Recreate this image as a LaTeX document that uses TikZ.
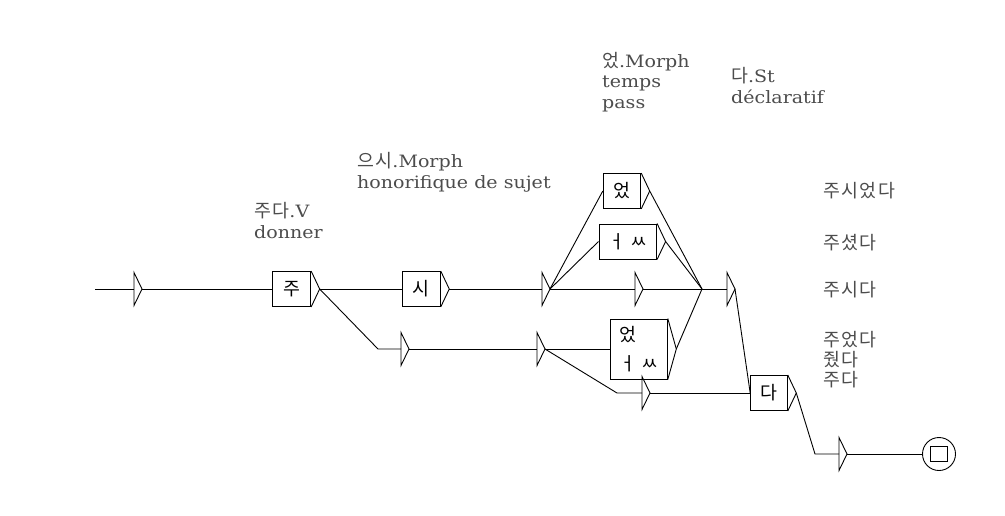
\documentclass[tikz,border=0pt]{standalone}
\usepackage{fontspec}
\setmainfont{DejaVu Serif}[FakeStretch=1.12]
\newfontfamily\kr{Noto Sans CJK KR}[Scale=1.08, LetterSpace=8]
\usetikzlibrary{positioning}
\lineskiplimit=-100pt

\begin{document}
\begin{tikzpicture}[x=1pt, y=-1pt,
    every node/.style={font=\fontsize{17}{20.5}\selectfont},
    box/.style={draw, line width=0.9pt, minimum height=35, inner sep=0, font=\kr\fontsize{17}{20.5}\selectfont},
    lbl/.style={anchor=base west, align=left, inner sep=0, text=black!70},
    word/.style={lbl, font=\kr\fontsize{17}{20}\selectfont},
    line/.style={line width=0.9pt}
  ]
    \useasboundingbox (0,0) rectangle (1005,515);
    % states
    \coordinate (in) at (95,289);
    \coordinate (e0) at (134,289);
    \node[box, minimum width=38] (zu) at (291.7,289) {주};
    \node[box, minimum width=38] (si) at (421.3,289) {시};
    \coordinate (e1) at (542,289);
    \coordinate (b1) at (378,349);
    \coordinate (e2) at (401,349);
    \coordinate (e3) at (537,349);
    \node[box, minimum width=37.5] (eot) at (622,191) {었};
    \node[box, minimum width=57.7] (eoss) at (627.8,241.5) {ㅓ ㅆ};
    \coordinate (e4) at (635,289);
    \coordinate (jn) at (702,289);
    \coordinate (e5) at (727,289);
    \node[box, minimum width=57.3, minimum height=60, align=left] (low) at (638.7,349) {었\\[8pt]ㅓ ㅆ};
    \coordinate (b2) at (617,393);
    \coordinate (e6) at (642,393);
    \node[box, minimum width=36.7] (da) at (769,393) {다};
    \coordinate (b3) at (815,454);
    \coordinate (e7) at (839,454);
    \node[circle, draw, line width=0.9pt, minimum size=33, inner sep=0] (fin) at (939,454) {};
    \node[draw, line width=0.9pt, minimum width=16.6, minimum height=15.6, inner sep=0] (finsq) at (fin) {};
    % output triangles
    \foreach \n in {zu,si,eot,eoss,low,da}
      \draw[line] (\n.north east) -- ([xshift=8.5]\n.east) coordinate (\n-o) -- (\n.south east);
    \foreach \n in {e0,e1,e2,e3,e4,e5,e6,e7}
      \draw[line] (\n) ++(0,-16.5) -- ([xshift=8]\n) coordinate (\n-o) -- ++(-8,16.5) -- cycle;
    % transitions
    \draw[line] (in) -- (e0);
    \draw[line] (e0-o) -- (zu);
    \draw[line] (zu-o) -- (si);
    \draw[line] (zu-o) -- (b1) -- (e2);
    \draw[line] (si-o) -- (e1);
    \draw[line] (e2-o) -- (e3);
    \draw[line] (e1-o) -- (eot.west);
    \draw[line] (e1-o) -- (eoss.west);
    \draw[line] (e1-o) -- (e4);
    \draw[line] (e3-o) -- (low.west);
    \draw[line] (e3-o) -- (b2) -- (e6);
    \draw[line] (eot-o) -- (jn);
    \draw[line] (eoss-o) -- (jn);
    \draw[line] (e4-o) -- (jn);
    \draw[line] (low-o) -- (jn);
    \draw[line] (jn) -- (e5);
    \draw[line] (e5-o) -- (da.west);
    \draw[line] (e6-o) -- (da);
    \draw[line] (da-o) -- (b3) -- (e7);
    \draw[line] (e7-o) -- (fin);
    % outputs
    \node[lbl] (lzu) at (254,238) {{\kr 주다}.V\\donner};
    \node[lbl] (lsi) at (357,188) {{\kr 으시}.Morph\\honorifique de sujet};
    \node[lbl] (leot) at (602,108) {{\kr 었}.Morph\\temps\\pass};
    \node[lbl] (lda) at (731,103) {{\kr 다}.St\\déclaratif};
    \node[word] (w1) at (823,197) {주시었다};
    \node[word] (w2) at (823,249) {주셨다};
    \node[word] (w3) at (823,296) {주시다};
    \node[word] (w4) at (823,386) {주었다\\줬다\\주다};
\end{tikzpicture}
\end{document}
